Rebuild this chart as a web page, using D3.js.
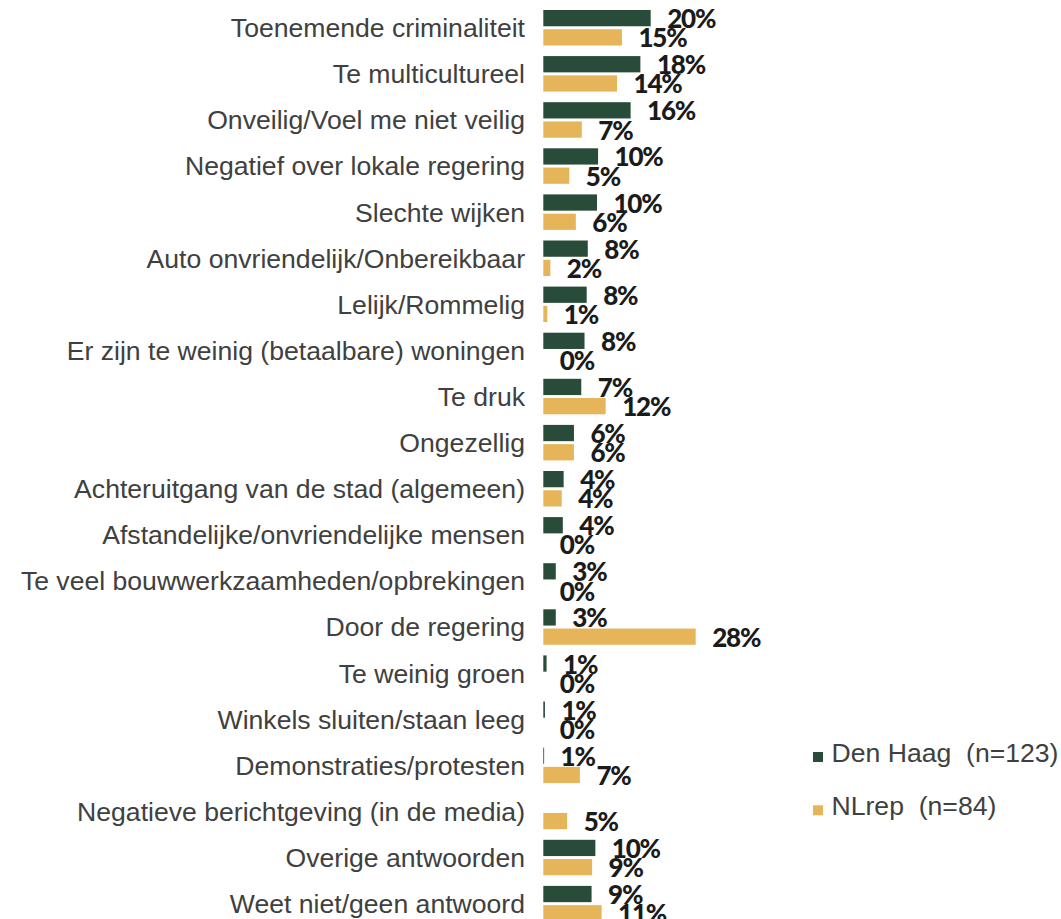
<!DOCTYPE html>
<html>
<head>
<meta charset="utf-8">
<script src="https://cdn.jsdelivr.net/npm/d3@7"></script>
<style>
  html, body { margin: 0; padding: 0; background: #fff; }
  svg { display: block; }
</style>
</head>
<body>
<div id="chart"></div>
<script>
const categories = [
  "Toenemende criminaliteit",
  "Te multicultureel",
  "Onveilig/Voel me niet veilig",
  "Negatief over lokale regering",
  "Slechte wijken",
  "Auto onvriendelijk/Onbereikbaar",
  "Lelijk/Rommelig",
  "Er zijn te weinig (betaalbare) woningen",
  "Te druk",
  "Ongezellig",
  "Achteruitgang van de stad (algemeen)",
  "Afstandelijke/onvriendelijke mensen",
  "Te veel bouwwerkzaamheden/opbrekingen",
  "Door de regering",
  "Te weinig groen",
  "Winkels sluiten/staan leeg",
  "Demonstraties/protesten",
  "Negatieve berichtgeving (in de media)",
  "Overige antwoorden",
  "Weet niet/geen antwoord"
];

// bar lengths (percent)
const denHaag = [19.8, 17.9, 16.1, 10.1, 9.9, 8.2, 8.0, 7.6, 7.0, 5.65, 3.75, 3.6, 2.3, 2.3, 0.6, 0.3, 0.15, null, 9.6, 8.9];
const nlRep   = [14.5, 13.6, 7.1, 4.8, 6.0, 1.3, 0.75, 0, 11.5, 5.65, 3.4, 0, 0, 28.1, 0, 0, 6.75, 4.4, 9.0, 10.75];

// value labels as printed
const denHaagLabels = ["20%","18%","16%","10%","10%","8%","8%","8%","7%","6%","4%","4%","3%","3%","1%","1%","1%","","10%","9%"];
const nlRepLabels   = ["15%","14%","7%","5%","6%","2%","1%","0%","12%","6%","4%","0%","0%","28%","0%","0%","7%","5%","9%","11%"];

const seriesNames = ["Den Haag  (n=123)", "NLrep  (n=84)"];
const seriesColors = ["#284c39", "#e6b55a"];

const width = 1061, height = 919;

const svg = d3.select("#chart").append("svg")
    .attr("width", width)
    .attr("height", height);

const y = d3.scaleBand()
    .domain(categories)
    .range([-0.6, 932])
    .padding(0.23);

const ySub = d3.scaleBand()
    .domain([0, 1])
    .range([0, y.bandwidth()])
    .paddingInner(0.155);

const x = d3.scaleLinear()
    .domain([0, 28.1])
    .range([543.3, 695.7]);

const rows = categories.map((c, i) => ({
  cat: c,
  vals: [
    {s: 0, v: denHaag[i], label: denHaagLabels[i]},
    {s: 1, v: nlRep[i], label: nlRepLabels[i]}
  ]
}));

// category labels
svg.append("g")
    .attr("font-family", "'Liberation Sans', Arial, sans-serif")
    .attr("font-size", 26.6)
    .attr("fill", "#404040")
    .attr("text-anchor", "end")
  .selectAll("text")
  .data(rows)
  .join("text")
    .attr("x", 525)
    .attr("y", d => y(d.cat) + y.bandwidth() / 2 + 9.4)
    .text(d => d.cat);

const group = svg.append("g")
  .selectAll("g")
  .data(rows)
  .join("g")
    .attr("transform", d => `translate(0,${y(d.cat)})`);

group.selectAll("rect")
  .data(d => d.vals.filter(e => e.v != null && e.v > 0))
  .join("rect")
    .attr("x", x(0))
    .attr("y", e => ySub(e.s))
    .attr("width", e => x(e.v) - x(0))
    .attr("height", ySub.bandwidth())
    .attr("fill", e => seriesColors[e.s]);

group.selectAll("text")
  .data(d => d.vals.filter(e => e.label !== ""))
  .join("text")
    .attr("x", e => x(e.v || 0) + 16.5)
    .attr("y", e => ySub(e.s) + ySub.bandwidth() / 2 + 10)
    .attr("font-family", "Lato, Inter, sans-serif")
    .attr("font-weight", 900)
    .attr("font-size", 26)
    .attr("letter-spacing", -1.2)
    .attr("fill", "#1b1b1b")
    .text(e => e.label);

// legend
const legend = svg.append("g")
  .selectAll("g")
  .data(seriesNames)
  .join("g")
    .attr("transform", (d, i) => `translate(813,${762 + i * 53.3})`);

legend.append("rect")
    .attr("x", 0)
    .attr("y", -10)
    .attr("width", 10)
    .attr("height", 10)
    .attr("fill", (d, i) => seriesColors[i]);

legend.append("text")
    .attr("x", 18.5)
    .attr("y", 0)
    .attr("font-family", "'Liberation Sans', Arial, sans-serif")
    .attr("font-size", 26.6)
    .attr("fill", "#404040")
    .style("white-space", "pre")
    .text(d => d);
</script>
</body>
</html>
